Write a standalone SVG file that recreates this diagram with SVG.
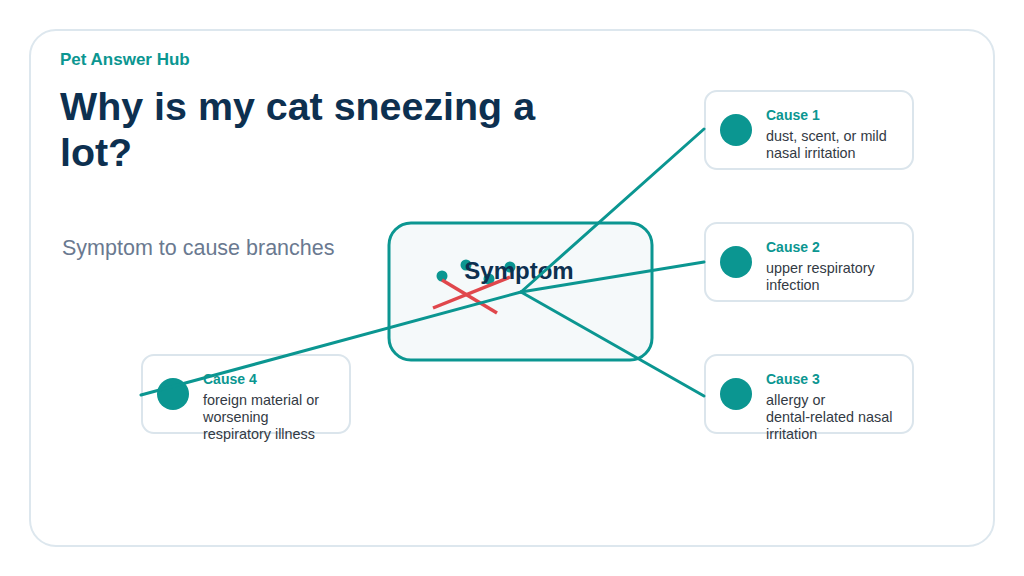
<svg xmlns="http://www.w3.org/2000/svg" width="1024" height="576" viewBox="0 0 1024 576">
  <style>
    .card{fill:#ffffff;stroke:#dbe5ec;stroke-width:2}
    .dot{fill:#0b9691}
    .ctitle{font-family:"Liberation Sans",Arial,sans-serif;font-size:14px;font-weight:bold;fill:#0b9691}
    .cbody{font-family:"Liberation Sans",Arial,sans-serif;font-size:14.4px;fill:#333a44}
    .conn{stroke:#0b9691;stroke-width:3;fill:none;stroke-linecap:round}
  </style>
  <rect x="0" y="0" width="1024" height="576" fill="#ffffff"/>
  <rect x="30" y="30" width="964" height="516" rx="26" fill="#ffffff" stroke="#dde7ee" stroke-width="2"/>
  <text x="60" y="65" font-family="Liberation Sans, Arial, sans-serif" font-size="17" font-weight="bold" fill="#0b9691">Pet Answer Hub</text>
  <text font-family="Liberation Sans, Arial, sans-serif" font-size="39.4" font-weight="bold" fill="#0d3050"><tspan x="60" y="120">Why is my cat sneezing a</tspan><tspan x="60" y="166">lot?</tspan></text>
  <text x="62" y="255" font-family="Liberation Sans, Arial, sans-serif" font-size="21.5" fill="#6a7990">Symptom to cause branches</text>

  <g id="symptom">
    <rect x="389" y="223" width="263" height="137" rx="22" fill="#f5f9fa" stroke="#0b9691" stroke-width="3"/>
    <circle class="dot" cx="442" cy="276" r="5.5"/>
    <circle class="dot" cx="466" cy="265" r="5.5"/>
    <circle class="dot" cx="510" cy="267" r="5.5"/>
    <circle class="dot" cx="489" cy="279" r="5.5"/>
    <line x1="433" y1="308" x2="510" y2="277" stroke="#e0474c" stroke-width="3.5"/>
    <line x1="442" y1="280" x2="497" y2="313" stroke="#e0474c" stroke-width="3.5"/>
    <text x="519" y="279" text-anchor="middle" font-family="Liberation Sans, Arial, sans-serif" font-size="24" font-weight="bold" fill="#0d3050">Symptom</text>
  </g>

  <g id="cause1">
    <rect class="card" x="705" y="91" width="208" height="78" rx="12"/>
    <circle class="dot" cx="736" cy="130" r="16"/>
    <text class="ctitle" x="766" y="120">Cause 1</text>
    <text class="cbody"><tspan x="766" y="141">dust, scent, or mild</tspan><tspan x="766" y="158">nasal irritation</tspan></text>
  </g>
  <g id="cause2">
    <rect class="card" x="705" y="223" width="208" height="78" rx="12"/>
    <circle class="dot" cx="736" cy="262" r="16"/>
    <text class="ctitle" x="766" y="252">Cause 2</text>
    <text class="cbody"><tspan x="766" y="273">upper respiratory</tspan><tspan x="766" y="290">infection</tspan></text>
  </g>
  <g id="cause3">
    <rect class="card" x="705" y="355" width="208" height="78" rx="12"/>
    <circle class="dot" cx="736" cy="394" r="16"/>
    <text class="ctitle" x="766" y="384">Cause 3</text>
    <text class="cbody"><tspan x="766" y="405">allergy or</tspan><tspan x="766" y="422">dental-related nasal</tspan><tspan x="766" y="439">irritation</tspan></text>
  </g>
  <g id="cause4">
    <rect class="card" x="142" y="355" width="208" height="78" rx="12"/>
    <circle class="dot" cx="173" cy="394" r="16"/>
    <text class="ctitle" x="203" y="384">Cause 4</text>
    <text class="cbody"><tspan x="203" y="405">foreign material or</tspan><tspan x="203" y="422">worsening</tspan><tspan x="203" y="439">respiratory illness</tspan></text>
  </g>

  <g id="connectors">
    <line class="conn" x1="521" y1="292" x2="704" y2="129"/>
    <line class="conn" x1="521" y1="292" x2="704" y2="262"/>
    <line class="conn" x1="521" y1="292" x2="704" y2="396"/>
    <line class="conn" x1="521" y1="292" x2="141" y2="395"/>
  </g>
</svg>
